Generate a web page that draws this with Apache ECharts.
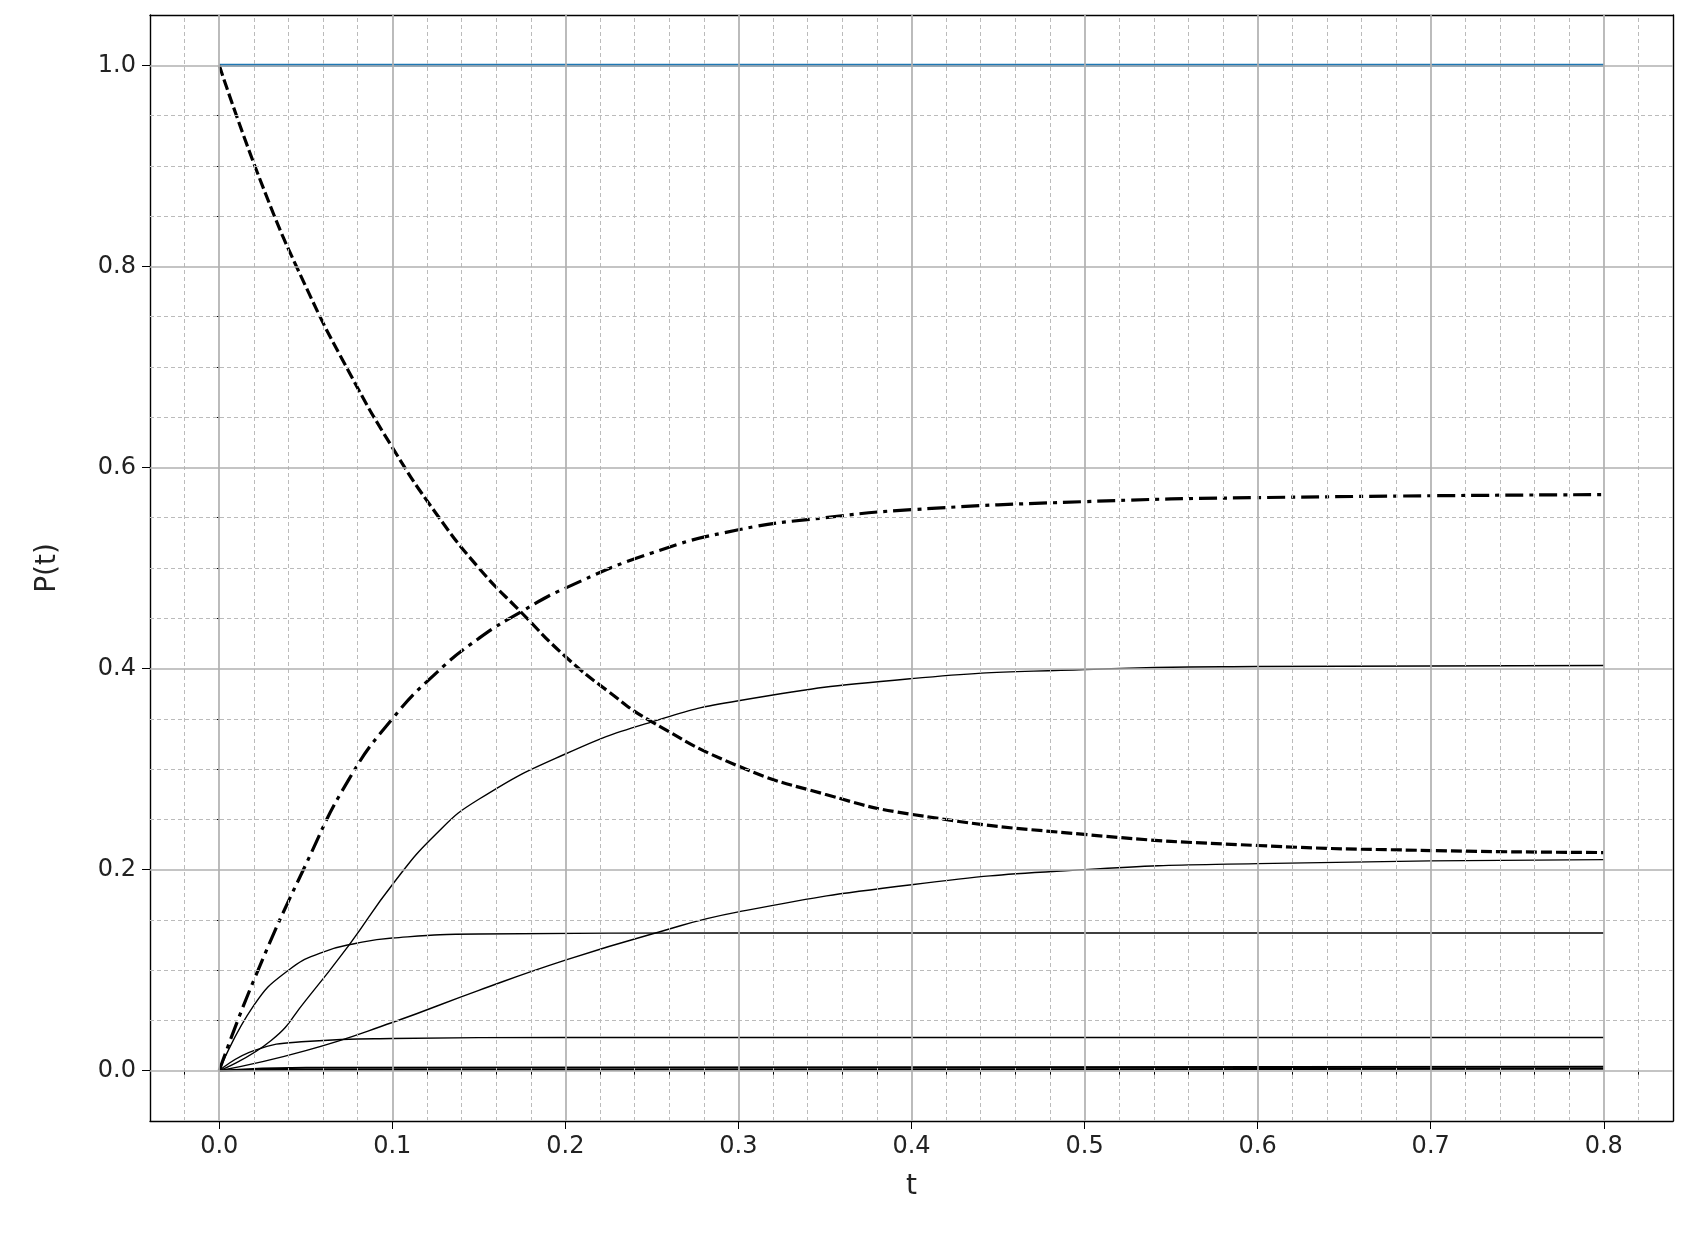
<!DOCTYPE html>
<html><head><meta charset="utf-8">
<script src="https://cdn.jsdelivr.net/npm/echarts@6/dist/echarts.min.js"></script>
<style>html,body{margin:0;background:#fff}#c{width:1694px;height:1233px}</style>
</head><body><div id="c"></div>
<script>
const xMajor=[0,0.1,0.2,0.3,0.4,0.5,0.6,0.7,0.8];
const yMajor=[0,0.2,0.4,0.6,0.8,1.0];
const xMinor=[-0.04,-0.02,0.02,0.04,0.06,0.08,0.12,0.14,0.16,0.18,0.22,0.24,0.26,0.28,0.32,0.34,0.36,0.38,0.42,0.44,0.46,0.48,0.52,0.54,0.56,0.58,0.62,0.64,0.66,0.68,0.72,0.74,0.76,0.78,0.82,0.84];
const yMinor=[-0.05,0.05,0.1,0.15,0.25,0.3,0.35,0.45,0.5,0.55,0.65,0.7,0.75,0.85,0.9,0.95,1.05];
const blue=[[0,1],[0.8,1]];
const dashed=[[0,1],[0.025,0.88],[0.05,0.78],[0.075,0.695],[0.1,0.62],[0.125,0.555],[0.15,0.5],[0.175,0.455],[0.2,0.412],[0.225,0.377],[0.25,0.347],[0.3,0.303],[0.35,0.275],[0.4,0.255],[0.5,0.235],[0.6,0.224],[0.7,0.219],[0.8,0.217]];
const dashDot=[[0,0],[0.02,0.09],[0.05,0.205],[0.075,0.29],[0.1,0.35],[0.125,0.395],[0.15,0.43],[0.175,0.457],[0.2,0.48],[0.25,0.515],[0.3,0.538],[0.35,0.55],[0.4,0.558],[0.5,0.566],[0.6,0.57],[0.8,0.573]];
const s1=[[0,0],[0.03,0.03],[0.05,0.07],[0.075,0.125],[0.1,0.185],[0.125,0.235],[0.15,0.27],[0.2,0.315],[0.25,0.347],[0.3,0.368],[0.4,0.39],[0.5,0.399],[0.6,0.402],[0.8,0.403]];
const s2=[[0,0],[0.05,0.02],[0.1,0.048],[0.15,0.08],[0.2,0.11],[0.25,0.136],[0.3,0.158],[0.4,0.185],[0.5,0.2],[0.6,0.206],[0.8,0.21]];
const s3=[[0,0],[0.02,0.065],[0.04,0.1],[0.06,0.118],[0.08,0.127],[0.1,0.132],[0.15,0.136],[0.3,0.137],[0.8,0.137]];
const s4=[[0,0],[0.02,0.02],[0.05,0.029],[0.1,0.032],[0.2,0.033],[0.8,0.033]];
const s5=[[0,0],[0.05,0.003],[0.8,0.004]];
const s6=[[0,0],[0.05,0.001],[0.8,0.002]];
const line=(d,o)=>Object.assign({type:'line',data:d,showSymbol:false,smooth:0.5,lineStyle:{color:'#000',width:1.4}},o||{});
const inside=(v,a,b)=>v>a+1e-9&&v<b-1e-9;
const gridSeries={type:'line',data:[],markLine:{silent:true,symbol:'none',label:{show:false},animation:false,data:[
 ...xMinor.filter(v=>inside(v,-0.04,0.84)).map(v=>({xAxis:v,lineStyle:{color:'#bbb',type:[4,3],width:1}})),
 ...yMinor.filter(v=>inside(v,-0.05,1.05)).map(v=>({yAxis:v,lineStyle:{color:'#bbb',type:[4,3],width:1}})),
 ...xMajor.map(v=>({xAxis:v,lineStyle:{color:'#b0b0b0',type:'solid',width:1.7}})),
 ...yMajor.map(v=>({yAxis:v,lineStyle:{color:'#b0b0b0',type:'solid',width:1.7}}))]}};
const lbl={fontSize:24,color:'#222',fontFamily:'DejaVu Sans'};
const nm={fontSize:28,color:'#222',fontFamily:'DejaVu Sans'};
const opt={animation:false,
grid:{left:150,right:21,top:15,bottom:112},
xAxis:[{type:'value',min:-0.04,max:0.84,splitLine:{show:false},
 axisLine:{onZero:false,lineStyle:{color:'#000',width:1.4}},
 axisTick:{customValues:xMajor,length:8,lineStyle:{color:'#000'}},
 axisLabel:Object.assign({customValues:xMajor,margin:14,formatter:v=>v.toFixed(1)},lbl),
 name:'t',nameLocation:'middle',nameGap:52,nameTextStyle:nm},
 {type:'value',min:-0.04,max:0.84,position:'bottom',splitLine:{show:false},axisLine:{show:false},axisLabel:{show:false},
 axisTick:{customValues:xMinor,length:4,lineStyle:{color:'#000'}}},
 {type:'value',min:-0.04,max:0.84,position:'top',splitLine:{show:false},axisLine:{onZero:false,lineStyle:{color:'#000',width:1.4}},axisLabel:{show:false},axisTick:{show:false}}],
yAxis:[{type:'value',min:-0.05,max:1.05,splitLine:{show:false},
 axisLine:{onZero:false,show:true,lineStyle:{color:'#000',width:1.4}},
 axisTick:{customValues:yMajor,length:8,lineStyle:{color:'#000'}},
 axisLabel:Object.assign({customValues:yMajor,margin:14,formatter:v=>v.toFixed(1)},lbl),
 name:'P(t)',nameLocation:'middle',nameGap:88,nameTextStyle:nm},
 {type:'value',min:-0.05,max:1.05,position:'left',splitLine:{show:false},axisLine:{show:false},axisLabel:{show:false},
 axisTick:{customValues:yMinor,length:4,lineStyle:{color:'#000'}}},
 {type:'value',min:-0.05,max:1.05,position:'right',splitLine:{show:false},axisLine:{show:true,onZero:false,lineStyle:{color:'#000',width:1.4}},axisLabel:{show:false},axisTick:{show:false}}],
series:[gridSeries,
 line(blue,{smooth:false,lineStyle:{color:'#1f77b4',width:3.2}}),
 line(s1),line(s2),line(s3),line(s4),line(s5,{lineStyle:{color:'#000',width:2}}),line(s6,{lineStyle:{color:'#000',width:2}}),
 line(dashed,{lineStyle:{color:'#000',width:3.2,type:[11,4]}}),
 line(dashDot,{lineStyle:{color:'#000',width:3.2,type:[18,6,4,6]}})]};
echarts.init(document.getElementById('c')).setOption(opt);
</script></body></html>
